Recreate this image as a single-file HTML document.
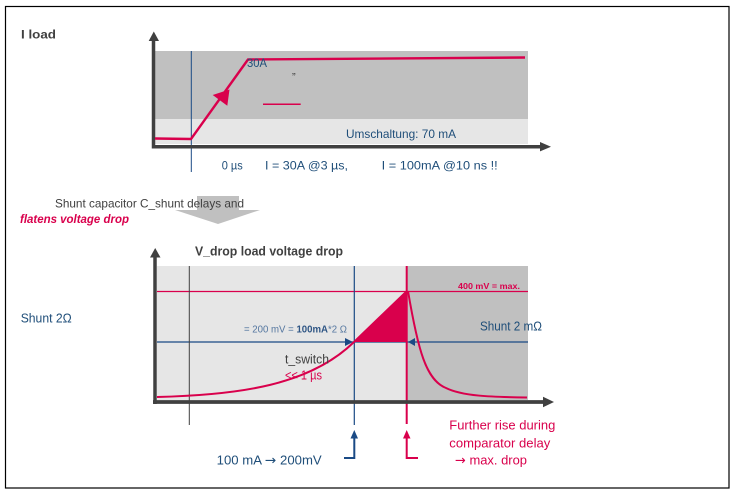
<!DOCTYPE html>
<html><head><meta charset="utf-8"><style>
html,body{margin:0;padding:0;background:#fff;}
svg{display:block;}
text{font-family:"Liberation Sans",sans-serif;}
</style></head><body>
<svg width="732" height="492" viewBox="0 0 732 492" xmlns="http://www.w3.org/2000/svg">
<rect x="0" y="0" width="732" height="492" fill="#fff"/>
<rect x="5.5" y="6.5" width="723.5" height="481.5" fill="none" stroke="#000" stroke-width="1.2"/>

<!-- TOP CHART -->
<rect x="155" y="51" width="373" height="68" fill="#c0c0c0"/>
<rect x="155" y="119" width="373" height="25" fill="#e6e6e6"/>
<line x1="191.3" y1="51" x2="191.3" y2="172" stroke="#1a4a85" stroke-width="1"/>
<line x1="153.5" y1="40" x2="153.5" y2="148.5" stroke="#404040" stroke-width="3.5"/>
<polygon points="148.7,41 159,41 153.8,31.5" fill="#404040"/>
<line x1="152" y1="146.7" x2="541" y2="146.7" stroke="#404040" stroke-width="3.5"/>
<polygon points="540,142 540,151.4 551,146.7" fill="#404040"/>
<polyline points="155,138.5 191,139 248,59.5 525,57.5" fill="none" stroke="#d9004c" stroke-width="2.4" stroke-linejoin="round"/>
<polygon points="229.5,89.5 212.7,95 227.3,105.7" fill="#d9004c"/>
<line x1="263" y1="104.3" x2="300.7" y2="104.3" stroke="#d9004c" stroke-width="1.5"/>

<text x="21" y="38.5" font-size="12" font-weight="bold" fill="#404040" textLength="35" lengthAdjust="spacingAndGlyphs">I  load</text>
<text x="247" y="67" font-size="12" fill="#1f4e79" textLength="20" lengthAdjust="spacingAndGlyphs">30A</text>
<text x="292" y="74" font-size="11" fill="#404040">„</text>
<text x="346" y="138" font-size="12" fill="#1f4e79" textLength="110" lengthAdjust="spacingAndGlyphs">Umschaltung: 70 mA</text>
<text x="221.7" y="169.5" font-size="12" fill="#1f4e79" textLength="21" lengthAdjust="spacingAndGlyphs">0 µs</text>
<text x="265" y="169.5" font-size="12" fill="#1f4e79" textLength="83" lengthAdjust="spacingAndGlyphs">I = 30A @3 µs,</text>
<text x="381.7" y="169.5" font-size="12" fill="#1f4e79" textLength="116" lengthAdjust="spacingAndGlyphs">I = 100mA @10 ns !!</text>

<!-- gray down arrow -->
<rect x="197" y="196" width="42" height="14.5" fill="#c0c0c0"/>
<polygon points="175,210 260,210 218,224" fill="#c0c0c0"/>
<text x="55" y="207.5" font-size="12" fill="#404040" textLength="189" lengthAdjust="spacingAndGlyphs">Shunt capacitor C_shunt delays and</text>
<text x="20" y="223" font-size="12" font-weight="bold" font-style="italic" fill="#d9004c" textLength="109" lengthAdjust="spacingAndGlyphs">flatens voltage drop</text>

<!-- BOTTOM CHART -->
<rect x="157" y="266" width="250" height="134" fill="#e6e6e6"/>
<rect x="407" y="266" width="121" height="134" fill="#c0c0c0"/>
<text x="195" y="255.5" font-size="12.5" font-weight="bold" fill="#404040" textLength="148" lengthAdjust="spacingAndGlyphs">V_drop load voltage drop</text>

<line x1="157" y1="291.5" x2="528" y2="291.5" stroke="#d9004c" stroke-width="1.2"/>
<line x1="157" y1="342" x2="528" y2="342" stroke="#1a4a85" stroke-width="1.2"/>
<polygon points="345,338 345,346 353,342" fill="#1a4a85"/>
<polygon points="415,338 415,346 408,342" fill="#1a4a85"/>
<line x1="189.3" y1="266" x2="189.3" y2="425" stroke="#404040" stroke-width="1"/>
<line x1="354.3" y1="266" x2="354.3" y2="425" stroke="#1a4a85" stroke-width="1.2"/>

<polygon points="354,342 407,291 407,342" fill="#d9004c"/>
<path d="M157,397 C240,395 310,385 354,342 L407,291" fill="none" stroke="#d9004c" stroke-width="2"/>
<path d="M408,291 C418,350 426,380 446,388 C462,396 490,397 527,397.5" fill="none" stroke="#d9004c" stroke-width="2"/>
<line x1="406.7" y1="266" x2="406.7" y2="424" stroke="#d9004c" stroke-width="2"/>

<line x1="155" y1="256" x2="155" y2="404" stroke="#404040" stroke-width="3.5"/>
<polygon points="150,257.5 160.5,257.5 155.2,248" fill="#404040"/>
<line x1="153" y1="402" x2="544" y2="402" stroke="#404040" stroke-width="3.8"/>
<polygon points="543,396.8 543,407.2 554,402" fill="#404040"/>

<text x="458" y="289.2" font-size="8.5" font-weight="bold" fill="#d9004c" textLength="62" lengthAdjust="spacingAndGlyphs">400 mV = max.</text>
<text x="480" y="330.5" font-size="13" fill="#1f4e79" textLength="62" lengthAdjust="spacingAndGlyphs">Shunt 2 mΩ</text>
<text x="20.7" y="322.5" font-size="12.5" fill="#1f4e79" textLength="51" lengthAdjust="spacingAndGlyphs">Shunt 2Ω</text>
<text x="244" y="332.3" font-size="10" fill="#5577a0" textLength="103" lengthAdjust="spacingAndGlyphs">= 200 mV = <tspan font-weight="bold" fill="#2f5685">100mA</tspan>*2 Ω</text>
<text x="285" y="363.5" font-size="13" fill="#404040" textLength="44" lengthAdjust="spacingAndGlyphs">t_switch</text>
<text x="285" y="379.5" font-size="13" fill="#d9004c" textLength="37" lengthAdjust="spacingAndGlyphs">&lt;&lt; 1 µs</text>

<!-- bottom brackets -->
<path d="M344,458 H354.3 V437" fill="none" stroke="#1a4a85" stroke-width="2"/>
<polygon points="350.5,438.5 358,438.5 354.3,430" fill="#1a4a85"/>
<path d="M418,458 H406.7 V437" fill="none" stroke="#d9004c" stroke-width="2"/>
<polygon points="403,438.5 410.5,438.5 406.7,430" fill="#d9004c"/>

<text x="216.7" y="464.5" font-size="12.5" fill="#1f4e79" textLength="105" lengthAdjust="spacingAndGlyphs">100 mA <tspan font-family="DejaVu Sans, sans-serif" font-size="13">→</tspan> 200mV</text>
<text x="449.3" y="429.5" font-size="13" fill="#d9004c" textLength="106" lengthAdjust="spacingAndGlyphs">Further rise during</text>
<text x="449.3" y="447.5" font-size="13" fill="#d9004c" textLength="101" lengthAdjust="spacingAndGlyphs">comparator delay</text>
<text x="455" y="464.5" font-size="13" fill="#d9004c" textLength="72" lengthAdjust="spacingAndGlyphs"><tspan font-family="DejaVu Sans, sans-serif">→</tspan> max. drop</text>
</svg>
</body></html>
